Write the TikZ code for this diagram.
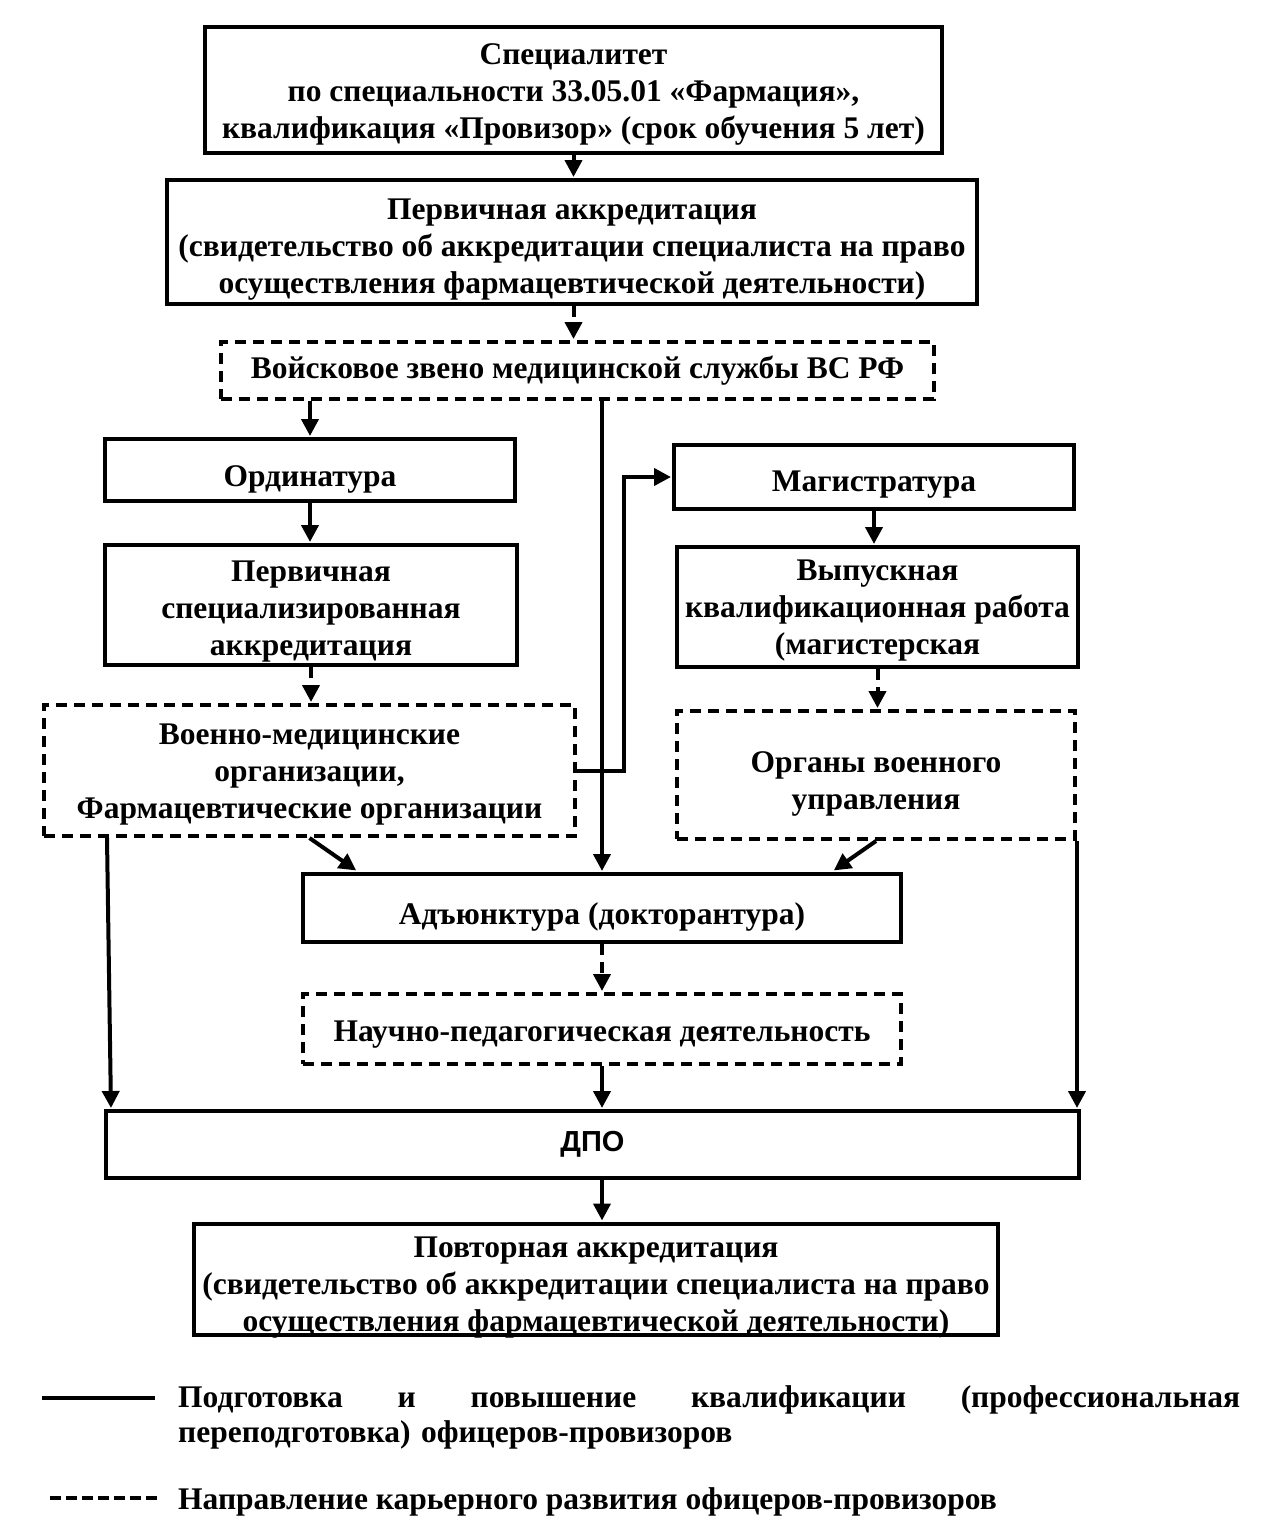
\documentclass[tikz,border=0pt]{standalone}
\usepackage{fontspec}
\setmainfont{Liberation Serif}
\newfontfamily\sansf{Liberation Sans}
\usetikzlibrary{arrows.meta,calc}
\newcommand\txt[2]{\raisebox{\dimexpr-#1pt-3pt\relax}[\height][\depth]{\begin{tabular}{@{}c@{}}#2\end{tabular}}}
\begin{document}
\begin{tikzpicture}[x=1pt,y=-1pt,
 box/.style={draw,line width=4pt,inner sep=0pt,font=\bfseries\fontsize{31.5}{37}\selectfont},
 dbox/.style={box,dash pattern=on 11pt off 7pt},
 arr/.style={line width=4pt,-{Triangle[length=17pt,width=17pt]},shorten >=1pt},
 darr/.style={arr,dash pattern=on 11pt off 7pt},
 legtext/.style={inner sep=0pt,anchor=north west,align=left,font=\bfseries\fontsize{31.5}{35}\selectfont},
]
\useasboundingbox (0,0) rectangle (1264,1523);

\node[box,minimum width=737pt,minimum height=126pt] (b1) at (573.5,90)
 {\txt{1}{Специалитет\\по специальности 33.05.01 «Фармация»,\\квалификация «Провизор» (срок обучения 5 лет)}};
\node[box,minimum width=810pt,minimum height=124pt] (b2) at (572,242)
 {\txt{4}{Первичная аккредитация\\(свидетельство об аккредитации специалиста на право\\осуществления фармацевтической деятельности)}};
\node[dbox,minimum width=713pt,minimum height=57pt] (b3) at (577.5,370.5)
 {\txt{-2}{Войсковое звено медицинской службы ВС РФ}};
\node[box,minimum width=410pt,minimum height=62pt] (ord) at (310,470) {\txt{6}{Ординатура}};
\node[box,minimum width=412pt,minimum height=120pt] (psa) at (311,605)
 {\txt{3}{Первичная\\специализированная\\аккредитация}};
\node[dbox,minimum width=531pt,minimum height=131pt] (vmo) at (309.5,770.5)
 {\txt{1}{Военно-медицинские\\организации,\\Фармацевтические организации}};
\node[box,minimum width=400pt,minimum height=64pt] (mag) at (874,477) {\txt{4}{Магистратура}};
\node[box,minimum width=401pt,minimum height=120pt] (vkr) at (877.5,607)
 {\txt{0}{Выпускная\\квалификационная работа\\(магистерская}};
\node[dbox,minimum width=398pt,minimum height=128pt] (ovu) at (876,775)
 {\txt{6}{Органы военного\\управления}};
\node[box,minimum width=598pt,minimum height=68pt] (adj) at (602,908) {\txt{6}{Адъюнктура (докторантура)}};
\node[dbox,minimum width=598pt,minimum height=70pt] (npd) at (602,1029) {\txt{2}{Научно-педагогическая деятельность}};
\node[box,minimum width=973pt,minimum height=67pt,font=\sansf\bfseries\fontsize{29}{37}\selectfont] (dpo) at (592.5,1144.5) {ДПО};
\node[box,minimum width=804pt,minimum height=110pt] (rep) at (596,1279)
 {\txt{5}{Повторная аккредитация\\(свидетельство об аккредитации специалиста на право\\осуществления фармацевтической деятельности)}};

% connectors
\draw[arr] (b1.south) -- (b1.south |- b2.north);
\draw[darr] (b2.south -| b1.south) -- (b1.south |- b3.north);
\draw[arr] (b3.south -| ord.north) -- (ord.north);
\draw[arr] (ord.south) -- (ord.south |- psa.north);
\draw[darr] (psa.south) -- (psa.south |- vmo.north);
\draw[arr] (b3.south -| adj.north) -- (adj.north);
\draw[arr] (vmo.east) -- ++(47,0) |- (mag.west);
\draw[arr] (mag.south) -- (mag.south |- vkr.north);
\draw[darr] (vkr.south) -- (vkr.south |- ovu.north);
\draw[arr] (vmo.south) -- ($(adj.north west)+(56,-1)$);
\draw[arr] (ovu.south) -- ($(adj.north east)+(-70,-1)$);
\draw[arr] ($(vmo.south west)+(65,0)$) -- ($(dpo.north west)+(7,0)$);
\draw[arr] (ovu.south east) -- ($(dpo.north east)+(-4,0)$);
\draw[darr] (adj.south) -- (npd.north);
\draw[arr] (npd.south) -- (npd.south |- dpo.north);
\draw[arr] (dpo.south -| npd.south) -- (npd.south |- rep.north);

% legend
\coordinate (l1a) at (42,1398);
\coordinate (l1b) at (155,1398);
\coordinate (l2a) at (50,1498);
\coordinate (l2b) at (160,1498);
\draw[line width=4pt] (l1a) -- (l1b);
\draw[line width=4pt,dash pattern=on 11pt off 5pt] (l2a) -- (l2b);
\node[legtext,text width=1062pt] (t1) at (178,1385)
 {Подготовка\hfill и\hfill повышение\hfill квалификации\hfill (профессиональная\\переподготовка) офицеров-провизоров};
\node[legtext] (t2) at (178,1487) {Направление карьерного развития офицеров-провизоров};
\end{tikzpicture}
\end{document}
